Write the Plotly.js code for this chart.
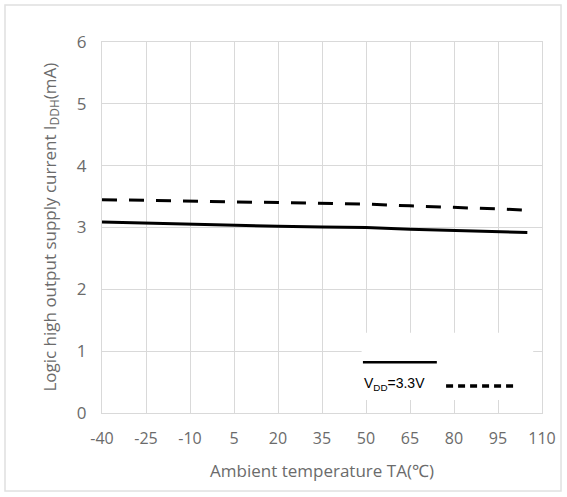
<!DOCTYPE html>
<html>
<head>
<meta charset="utf-8">
<script src="https://cdn.plot.ly/plotly-3.0.1.min.js"></script>
<style>html,body{margin:0;padding:0;background:#fff;}#chart{width:567px;height:497px;}</style>
</head>
<body>
<div id="chart"></div>
<script>
const temps = [-40, -25, -10, 5, 20, 35, 50, 65, 80, 95, 105];
const solidSeries = [3.09, 3.07, 3.05, 3.03, 3.02, 3.01, 3.00, 2.97, 2.95, 2.93, 2.92];
const dashedSeries = [3.45, 3.44, 3.43, 3.42, 3.41, 3.40, 3.38, 3.35, 3.33, 3.30, 3.28];
const xTicks = [-40, -25, -10, 5, 20, 35, 50, 65, 80, 95, 110];
const yTicks = [0, 1, 2, 3, 4, 5, 6];
const legendLabel = 'V<sub>DD</sub>=3.3V';
const yTitle = 'Logic high output supply current I<sub>DDH</sub>(mA)';
const xTitle = 'Ambient temperature TA(℃)';

const fontFam = 'Open Sans, Liberation Sans, sans-serif';
const txtColor = '#6b6b6b';
const traces = [
  {x: temps, y: solidSeries, mode: 'lines', line: {color: '#000', width: 3}, showlegend: false, hoverinfo: 'skip'},
  {x: temps, y: dashedSeries, mode: 'lines', line: {color: '#000', width: 3, dash: '15px,12px'}, showlegend: false, hoverinfo: 'skip'}
];
const layout = {
  width: 567, height: 497,
  margin: {l: 102, r: 25, t: 42, b: 84},
  paper_bgcolor: '#fff', plot_bgcolor: '#fff',
  font: {family: fontFam, color: txtColor, size: 16},
  xaxis: {
    range: [-40, 110], tickvals: xTicks, ticktext: xTicks.map(String),
    showgrid: true, gridcolor: '#d9d9d9', gridwidth: 1,
    showline: true, linecolor: '#d9d9d9', mirror: true, zeroline: false,
    ticks: '', ticklabelstandoff: 11, tickfont: {size: 16, color: txtColor},
    title: {text: xTitle, font: {size: 17, color: txtColor}, standoff: 16}
  },
  yaxis: {
    range: [0, 6], tickvals: yTicks,
    showgrid: true, gridcolor: '#d9d9d9', gridwidth: 1,
    showline: true, linecolor: '#d9d9d9', mirror: true, zeroline: false,
    ticks: '', ticklabelstandoff: 11, tickfont: {size: 17, color: txtColor}
  },
  shapes: [
    {type: 'rect', xref: 'paper', yref: 'paper', x0: 0.59, x1: 0.98, y0: 0.035, y1: 0.216, fillcolor: '#fff', line: {width: 0}, layer: 'above'},
    {type: 'line', xref: 'paper', yref: 'paper', x0: 0.593, x1: 0.761, y0: 0.137, y1: 0.137, line: {color: '#000', width: 2.5}, layer: 'above'},
    {type: 'line', xref: 'paper', yref: 'paper', x0: 0.782, x1: 0.94, y0: 0.073, y1: 0.073, line: {color: '#000', width: 3.5, dash: '7px,5px'}, layer: 'above'}
  ],
  annotations: [
    {xref: 'paper', yref: 'paper', x: -0.118, y: 0.5, xanchor: 'center', yanchor: 'middle', textangle: -90, text: yTitle, showarrow: false, font: {size: 17, color: txtColor}},
    {xref: 'paper', yref: 'paper', x: 0.59, y: 0.078, xanchor: 'left', yanchor: 'middle', text: legendLabel, showarrow: false, font: {family: 'Liberation Sans, sans-serif', size: 14, color: '#000'}}
  ]
};
Plotly.newPlot('chart', traces, layout, {displayModeBar: false, staticPlot: true}).then(() => {
  const svg = document.querySelector('#chart .main-svg');
  const r = document.createElementNS('http://www.w3.org/2000/svg', 'rect');
  r.setAttribute('x', 5); r.setAttribute('y', 5); r.setAttribute('width', 556); r.setAttribute('height', 486);
  r.setAttribute('fill', 'none'); r.setAttribute('stroke', '#e0e0e0'); r.setAttribute('stroke-width', 1.5);
  svg.appendChild(r);
});
</script>
</body>
</html>
